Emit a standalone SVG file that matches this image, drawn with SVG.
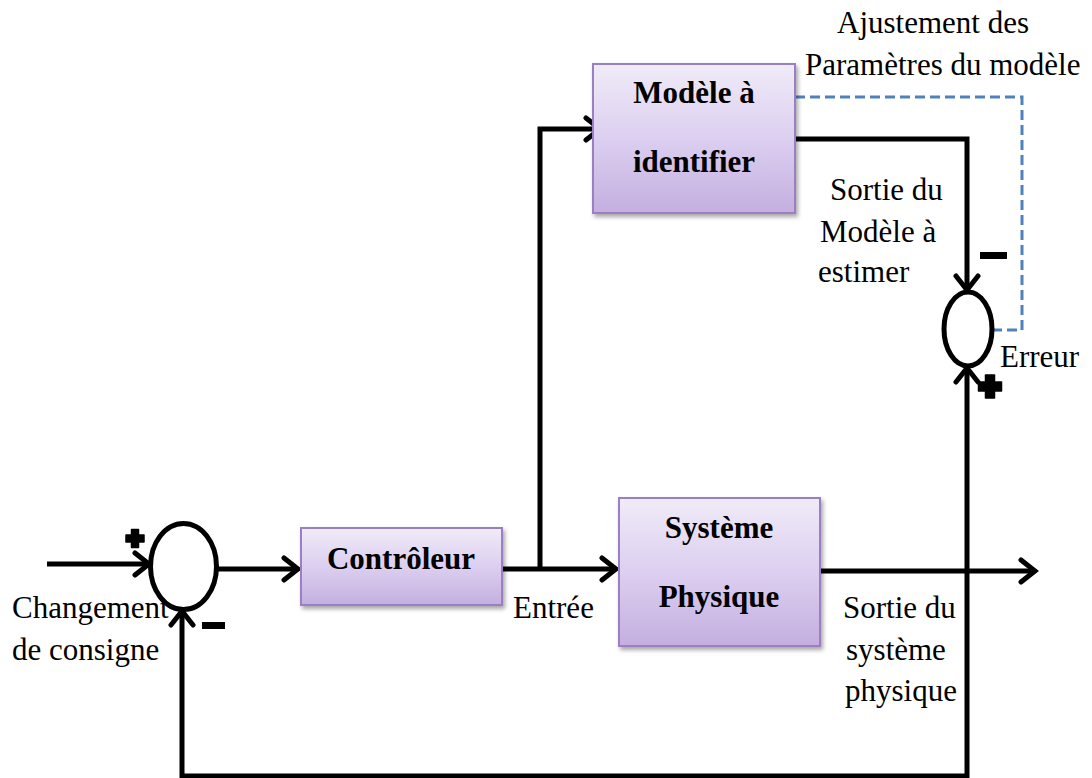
<svg xmlns="http://www.w3.org/2000/svg" width="1092" height="778" viewBox="0 0 1092 778">
  <style>
    .lbl { font-family: "Liberation Serif", "Times New Roman", serif; font-size: 31px; fill: #000; }
    .ttl { font-family: "Liberation Serif", "Times New Roman", serif; font-size: 31px; font-weight: bold; fill: #000; text-anchor: middle; }
    .box { fill: url(#boxFill); stroke: #9a80c2; stroke-width: 2; filter: url(#shadow); }
    .wire { fill: none; stroke: #000; stroke-width: 5; stroke-linejoin: miter; }
    .dash { fill: none; stroke: #4f81bd; stroke-width: 3; stroke-dasharray: 10 5; }
    .sum { fill: #fff; stroke: #000; stroke-width: 5; }
    .sign { fill: #000; }
    .plus { fill: #000; stroke: #000; stroke-width: 1.5; stroke-linejoin: round; }
  </style>
  <defs>
    <linearGradient id="boxFill" x1="0" y1="0" x2="0" y2="1">
      <stop offset="0" stop-color="#f0ebf8"/>
      <stop offset="0.5" stop-color="#dccff0"/>
      <stop offset="1" stop-color="#c4afe0"/>
    </linearGradient>
    <filter id="shadow" x="-10%" y="-10%" width="125%" height="130%">
      <feDropShadow dx="2" dy="3" stdDeviation="2" flood-color="#000" flood-opacity="0.35"/>
    </filter>
    <marker id="arrow" markerUnits="userSpaceOnUse" viewBox="-20 -15 24 30" markerWidth="24" markerHeight="30" refX="0" refY="0" orient="auto-start-reverse">
      <path d="M-14,-11 L0,0 L-14,11" fill="none" stroke="#000" stroke-width="5" stroke-linecap="round" stroke-linejoin="miter"/>
    </marker>
  </defs>

  <rect width="1092" height="778" fill="#fff"/>

  <!-- connectors -->
  <g id="connectors">
    <path class="wire" d="M47,564 H149" marker-end="url(#arrow)"/>
    <path class="wire" d="M217,569 H298" marker-end="url(#arrow)"/>
    <path class="wire" d="M502,569 H616" marker-end="url(#arrow)"/>
    <path class="wire" d="M540,569 V129 H600" marker-end="url(#arrow)"/>
    <path class="wire" d="M820,571 H1035" marker-end="url(#arrow)"/>
    <path class="wire" d="M795,139 H967 V290" marker-end="url(#arrow)"/>
    <path class="wire" d="M967,368 V776 H182 V611" marker-start="url(#arrow)" marker-end="url(#arrow)"/>
    <path class="dash" d="M795,97 H1022 V330 H991"/>
  </g>

  <!-- summing junction at the input -->
  <g id="sum-input">
    <ellipse class="sum" cx="183.5" cy="566.5" rx="33" ry="43"/>
    <path class="plus" d="M131.5,529.5 h7 v5.5 h5.5 v7 h-5.5 v5.5 h-7 v-5.5 h-5.5 v-7 h5.5 z"/>
    <rect class="sign" x="202" y="622" width="23" height="7"/>
  </g>

  <!-- error junction -->
  <g id="sum-error">
    <ellipse class="sum" cx="968" cy="329" rx="24" ry="37"/>
    <rect class="sign" x="980" y="252" width="27" height="7"/>
    <path class="plus" d="M985.5,375 h9 v7 h7 v9 h-7 v7 h-9 v-7 h-7 v-9 h7 z"/>
  </g>

  <g id="controleur">
    <rect class="box" x="301" y="528" width="201" height="77"/>
    <text class="ttl" x="401" y="569">Contrôleur</text>
  </g>

  <g id="systeme">
    <rect class="box" x="619" y="498" width="201" height="148"/>
    <text class="ttl" x="719" y="538">Système</text>
    <text class="ttl" x="719" y="607">Physique</text>
  </g>

  <g id="modele">
    <rect class="box" x="593" y="64" width="202" height="149"/>
    <text class="ttl" x="694" y="103">Modèle à</text>
    <text class="ttl" x="694" y="172">identifier</text>
  </g>

  <!-- signal labels -->
  <g id="labels">
    <text class="lbl" x="837" y="33">Ajustement des</text>
    <text class="lbl" x="805" y="75">Paramètres du modèle</text>
    <text class="lbl" x="830" y="200">Sortie du</text>
    <text class="lbl" x="820" y="242">Modèle à</text>
    <text class="lbl" x="818" y="282">estimer</text>
    <text class="lbl" x="1000" y="367">Erreur</text>
    <text class="lbl" x="513" y="618">Entrée</text>
    <text class="lbl" x="12" y="618">Changement</text>
    <text class="lbl" x="12" y="660">de consigne</text>
    <text class="lbl" x="843" y="618">Sortie du</text>
    <text class="lbl" x="846" y="660">système</text>
    <text class="lbl" x="845" y="701">physique</text>
  </g>
</svg>
